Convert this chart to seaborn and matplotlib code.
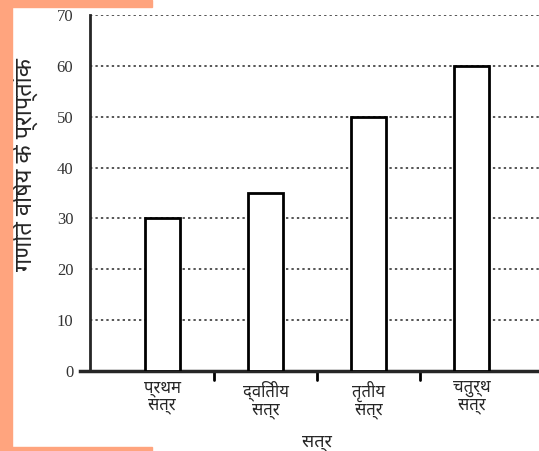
import matplotlib
matplotlib.use("Agg")
import matplotlib.pyplot as plt
import seaborn as sns
import pandas as pd
from matplotlib.patches import Rectangle

categories = ["प्रथम\nसत्र", "द्वितीय\nसत्र", "तृतीय\nसत्र", "चतुर्थ\nसत्र"]
values = [30, 35, 50, 60]
yticks = [0, 10, 20, 30, 40, 50, 60, 70]
xlabel = "सत्र"
ylabel = "गणित विषय के प्राप्तांक"

sns.set_style("white")
plt.rcParams['font.family'] = ['Noto Sans', 'Liberation Serif', 'DejaVu Sans']

df = pd.DataFrame({"cat": categories, "val": values})

fig = plt.figure(figsize=(5.39, 4.51), dpi=100)
ax = fig.add_axes([90/539, 1-371/451, 1-90/539, (371-15)/451])

sns.barplot(data=df, x="cat", y="val", color="white", edgecolor="black",
            linewidth=2, width=0.34, ax=ax, saturation=1, zorder=3)

ax.set_ylim(0, 70)
ax.set_xlim(-0.70, 3.65)
ax.set_yticks(yticks)
ax.set_yticklabels([str(t) for t in yticks], family=['Liberation Serif'], fontsize=12, color='#333333')
for t in yticks[1:]:
    ax.axhline(t, color='#555555', linestyle=(0, (1.2, 1.6)), linewidth=1.4, zorder=1)

ax.set_xticks([0, 1, 2, 3])
ax.set_xticklabels(categories, fontsize=12, linespacing=1.05)
ax.tick_params(axis='x', length=0, pad=7)
ax.tick_params(axis='y', length=9, width=2, direction='out', pad=3)
for b in [0.5, 1.5, 2.5]:
    ax.plot([b, b], [0, -0.025], transform=ax.get_xaxis_transform(), color='black', lw=2, clip_on=False)

for s in ['top', 'right']:
    ax.spines[s].set_visible(False)
ax.spines['left'].set_linewidth(2)
ax.spines['bottom'].set_linewidth(2.5)
ax.spines['bottom'].set_bounds(-0.80, 3.65)

ax.set_xlabel(xlabel, fontsize=13)
ax.xaxis.set_label_coords((317-90)/449, -(442-371)/356)
ax.xaxis.label.set_va('center')
ax.set_ylabel(ylabel, fontsize=17)
ax.yaxis.set_label_coords(-(90-24)/449, (371-165)/356)
ax.yaxis.label.set_va('center')

orange = '#FFA47E'
fig.patches.append(Rectangle((0, 0), 12/539, 1, transform=fig.transFigure, color=orange, zorder=10))
fig.patches.append(Rectangle((0, 1-7/451), 152/539, 7/451, transform=fig.transFigure, color=orange, zorder=10))
fig.patches.append(Rectangle((0, 0), 152/539, 4/451, transform=fig.transFigure, color=orange, zorder=10))

fig.savefig("out.png", dpi=100)
